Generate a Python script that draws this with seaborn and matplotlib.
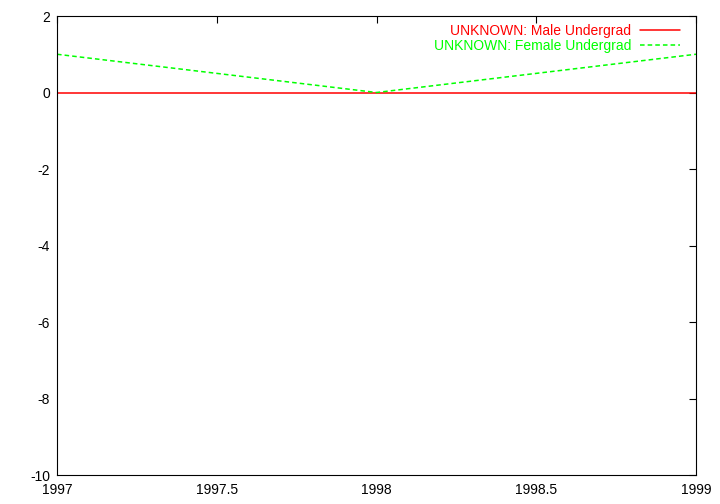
import seaborn as sns
import matplotlib.pyplot as plt
import pandas as pd

# data
years = [1997, 1998, 1999]
male_undergrad = [0, 0, 0]
female_undergrad = [1, 0, 1]
series_names = ['UNKNOWN: Male Undergrad', 'UNKNOWN: Female Undergrad']
series_colors = ['#ff0000', '#00ff00']

x_ticks = [1997, 1997.5, 1998, 1998.5, 1999]
y_ticks = [-10, -8, -6, -4, -2, 0, 2]

df = pd.DataFrame({
    'year': years * 2,
    'value': male_undergrad + female_undergrad,
    'series': [series_names[0]] * len(years) + [series_names[1]] * len(years),
})

sns.set_style('white')
plt.rcParams['font.family'] = ['Liberation Sans', 'DejaVu Sans']
plt.rcParams['font.size'] = 10
plt.rcParams['axes.unicode_minus'] = False

fig = plt.figure(figsize=(7.2, 5.04), dpi=100)
ax = fig.add_axes([57 / 720, 1 - 475 / 504, 639 / 720, 459 / 504])

sns.lineplot(data=df, x='year', y='value', hue='series', style='series',
             palette=series_colors, dashes=[(None, None), (3, 2)],
             linewidth=1.1, ax=ax)

ax.set_xlim(1997, 1999)
ax.set_ylim(-10, 2)
ax.set_xticks(x_ticks)
ax.set_xticklabels(['1997', '1997.5', '1998', '1998.5', '1999'])
ax.set_yticks(y_ticks)
ax.set_xlabel('')
ax.set_ylabel('')

for side in ax.spines.values():
    side.set_color('black')
    side.set_linewidth(0.8)
ax.tick_params(direction='in', length=5, width=0.8, top=True, right=True,
               labelsize=10, colors='black', pad=5)
ax.tick_params(axis='x', pad=6)

leg = ax.legend(loc='upper right', bbox_to_anchor=(0.995, 1.01), frameon=False,
                markerfirst=False, labelcolor='linecolor', handlelength=2.9,
                labelspacing=0.05, handletextpad=0.65, fontsize=10)

fig.savefig('out.png', dpi=100)
